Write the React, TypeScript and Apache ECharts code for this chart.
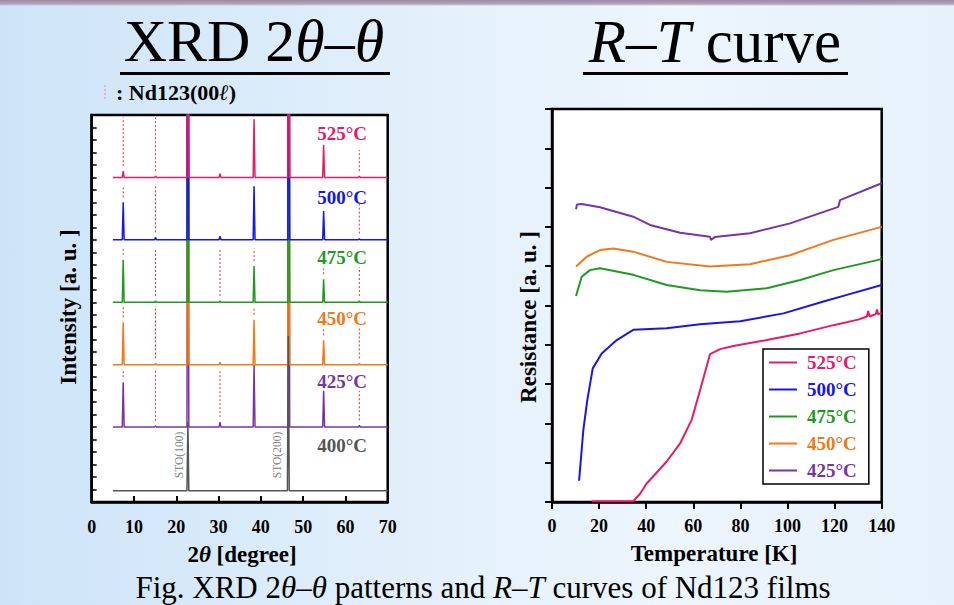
import React, { useEffect, useRef } from "react";
import * as echarts from "echarts";

const SERIF = "'Liberation Serif', 'Times New Roman', serif";

// ---------- XRD 2θ–θ data ----------
// Nd123 (00ℓ) reflection positions, 2θ in degrees
const ND123_PEAKS = [7.45, 15.1, 22.75, 30.35, 38.4, 46.6, 54.85, 63.3];
const XRD_NAMES = ["525°C", "500°C", "475°C", "450°C", "425°C", "400°C"];
const XRD_COLORS = ["#e8196b", "#1717e6", "#1f9a1f", "#ef7a17", "#7a33a6", "#555555"];
// vertical offset of each pattern (stacked)
const XRD_BASELINES = [26, 21, 16, 11, 6, 0.9];
// peak heights above baseline, one per Nd123 position (STO-overlapping peaks run off scale)
const PEAKS_525 = [0.5, 0.1, 40, 0.3, 4.65, 40, 2.6, 0.1];
const PEAKS_500 = [3.0, 0.2, 40, 0.3, 4.3, 40, 2.3, 0.1];
const PEAKS_475 = [3.4, 0.1, 40, 0.1, 2.9, 40, 1.85, 0.1];
const PEAKS_450 = [3.4, 0.1, 40, 0.2, 3.6, 40, 1.95, 0.1];
const PEAKS_425 = [3.6, 0.1, 40, 0.4, 4.97, 40, 2.9, 0.15];
// 400°C film: substrate peaks only
const STO_PEAKS = [22.75, 46.5];
const PEAKS_400 = [5.5, 12.4];
// dotted Nd123 guide marks per pattern: [2θ, top above baseline]
const MARKS_525 = [[7.45, 4.8], [15.1, 4.8], [63.3, 2.2]];
const MARKS_500 = [[7.45, 4.3], [15.1, 4.3], [63.3, 3.0]];
const MARKS_475 = [[7.45, 4.3], [15.1, 4.3], [30.35, 4.3], [38.4, 4.3], [54.85, 2.7], [63.3, 2.8]];
const MARKS_450 = [[7.45, 4.7], [15.1, 4.7], [38.4, 4.6], [54.85, 3.0], [63.3, 3.0]];
const MARKS_425 = [[7.45, 4.6], [15.1, 4.6], [30.35, 4.5], [63.3, 2.9]];
const XRD_TICKS = [0, 10, 20, 30, 40, 50, 60, 70];

// ---------- R–T data: [T (K), R (a.u.)] ----------
const RT_525 = [
  [16.8, 0.02], [34.5, 0.02], [37.4, 0.21], [40.2, 0.47], [44, 0.72], [48.7, 1.03], [54.4, 1.49],
  [59.3, 2.09], [62.9, 2.85], [67.1, 3.76], [71.4, 3.89], [77, 3.97], [91.2, 4.12], [105.4, 4.29],
  [119.5, 4.5], [130, 4.64], [133.7, 4.72], [134.3, 4.86], [134.8, 4.72], [137.5, 4.78],
  [138, 4.9], [138.5, 4.78], [140, 4.8],
];
const RT_500 = [
  [11.5, 0.54], [13.3, 1.83], [15.0, 2.6], [17.3, 3.4], [21.1, 3.78], [27.5, 4.12], [34.5, 4.38],
  [48.7, 4.42], [62.9, 4.52], [79.9, 4.6], [98.3, 4.8], [115.3, 5.1], [125.2, 5.27], [140, 5.52],
];
const RT_475 = [
  [10.2, 5.24], [12.6, 5.73], [16.1, 5.9], [20.4, 5.95], [34.5, 5.78], [48.7, 5.52], [62.9, 5.39],
  [74.2, 5.35], [91.2, 5.44], [105.4, 5.65], [119.5, 5.9], [140, 6.18],
];
const RT_450 = [
  [10.2, 5.99], [14.7, 6.24], [20.4, 6.41], [26, 6.45], [34.5, 6.37], [48.7, 6.11], [67.1, 5.99],
  [84.1, 6.05], [101.1, 6.28], [119.5, 6.67], [140, 7.0],
];
const RT_425 = [
  [10.2, 7.45], [10.6, 7.57], [12.6, 7.58], [20.4, 7.5], [34.5, 7.26], [41.6, 7.05], [54.4, 6.85],
  [67.1, 6.75], [67.5, 6.67], [69.1, 6.74], [84.1, 6.84], [101.1, 7.09], [113.8, 7.35],
  [121.6, 7.51], [122.3, 7.68], [140, 8.11],
];
const RT_NAMES = ["525°C", "500°C", "475°C", "450°C", "425°C"];
const RT_COLORS = ["#e8196b", "#1717e6", "#1f9a1f", "#ef7a17", "#7a33a6"];
const RT_SETS = [RT_525, RT_500, RT_475, RT_450, RT_425];
const RT_TICKS = [0, 20, 40, 60, 80, 100, 120, 140];

function buildPattern(base: number, positions: number[], heights: number[]) {
  const pts: number[][] = [[5, base]];
  positions.forEach((p, i) => {
    pts.push([p - 0.22, base], [p, base + heights[i]], [p + 0.22, base]);
  });
  pts.push([70, base]);
  return pts;
}

// vertical guide segments, separated by empty points so each stands alone
function buildMarks(base: number, heights: number[], marks: number[][]) {
  const pts: any[] = [];
  marks.forEach(([p, top]) => {
    const i = ND123_PEAKS.indexOf(p);
    const h = i >= 0 ? heights[i] : 0;
    pts.push([p, base + Math.max(h + 0.4, 0.45)], [p, base + top], [p, "-"]);
  });
  return pts;
}

export default function App() {
  const ref = useRef<HTMLDivElement>(null);

  useEffect(() => {
    if (!ref.current) return;
    const chart = echarts.init(ref.current, undefined, { renderer: "svg" });

    const peakSets = [PEAKS_525, PEAKS_500, PEAKS_475, PEAKS_450, PEAKS_425];
    const markSets = [MARKS_525, MARKS_500, MARKS_475, MARKS_450, MARKS_425];

    const guideSeries = markSets.map((m, k) => ({
      name: "Nd123 " + XRD_NAMES[k],
      type: "line",
      xAxisIndex: 0,
      yAxisIndex: 0,
      data: buildMarks(XRD_BASELINES[k], peakSets[k], m),
      connectNulls: false,
      symbol: "none",
      lineStyle: { color: "#ea2f3b", width: 1, type: [2, 2] },
      itemStyle: { color: "#ea2f3b" },
      silent: true,
    }));

    // lower patterns first so each band shows its own colour on top
    const xrdSeries: any[] = [];
    for (let k = 4; k >= 0; k--) {
      xrdSeries.push({
        name: "XRD " + XRD_NAMES[k],
        type: "line",
        xAxisIndex: 0,
        yAxisIndex: 0,
        data: buildPattern(XRD_BASELINES[k], ND123_PEAKS, peakSets[k]),
        symbol: "none",
        lineStyle: { color: XRD_COLORS[k], width: 1.5 },
        itemStyle: { color: XRD_COLORS[k] },
        silent: true,
      });
    }
    xrdSeries.push({
      name: "XRD " + XRD_NAMES[5],
      type: "line",
      xAxisIndex: 0,
      yAxisIndex: 0,
      data: buildPattern(XRD_BASELINES[5], STO_PEAKS, PEAKS_400),
      symbol: "none",
      lineStyle: { color: XRD_COLORS[5], width: 1.5 },
      itemStyle: { color: XRD_COLORS[5] },
      silent: true,
    });

    const rtSeries = RT_SETS.map((d, i) => ({
      name: RT_NAMES[i],
      type: "line",
      xAxisIndex: 1,
      yAxisIndex: 1,
      data: d,
      symbol: "none",
      showSymbol: false,
      lineStyle: { color: RT_COLORS[i], width: 2 },
      itemStyle: { color: RT_COLORS[i] },
      silent: true,
    }));

    const tempLabelY = [133, 197, 257, 318, 381, 445];
    const tempLabels = XRD_NAMES.map((n, i) => ({
      type: "text",
      z: 100,
      x: 367,
      y: tempLabelY[i],
      style: {
        text: n,
        fill: XRD_COLORS[i],
        font: `bold 19px ${SERIF}`,
        align: "right",
        verticalAlign: "middle",
      },
    }));

    const rich = (size: number, weight: string) => ({
      r: { fontFamily: SERIF, fontSize: size, fontWeight: weight, color: "#000" },
      i: { fontFamily: SERIF, fontSize: size, fontWeight: weight, fontStyle: "italic", color: "#000" },
    });

    const axisLabel = {
      fontFamily: SERIF,
      fontSize: 18,
      fontWeight: "bold",
      color: "#000",
    };

    chart.setOption({
      animation: false,
      grid: [
        {
          left: 91.7, top: 115, width: 296, height: 387,
          show: true, backgroundColor: "#fff", borderColor: "#000", borderWidth: 2.5,
        },
        {
          left: 552, top: 109, width: 329.7, height: 393,
          show: true, backgroundColor: "#fff", borderColor: "#000", borderWidth: 2.5,
        },
      ],
      xAxis: [
        {
          gridIndex: 0, type: "value", min: 0, max: 70, interval: 10,
          axisLine: { show: true, lineStyle: { color: "#000", width: 2.5 } },
          axisTick: { inside: true, length: 6, lineStyle: { color: "#000", width: 2 } },
          axisLabel: { ...axisLabel, margin: 16, formatter: (v: number) => (XRD_TICKS.includes(v) ? String(v) : "") },
          splitLine: { show: false },
        },
        {
          gridIndex: 1, type: "value", min: 0, max: 140, interval: 20,
          axisLine: { show: true, lineStyle: { color: "#000", width: 2.5 } },
          axisTick: { inside: false, length: 7, lineStyle: { color: "#000", width: 2 } },
          axisLabel: { ...axisLabel, margin: 15, formatter: (v: number) => (RT_TICKS.includes(v) ? String(v) : "") },
          splitLine: { show: false },
        },
      ],
      yAxis: [
        {
          gridIndex: 0, type: "value", min: 0, max: 31, interval: 1,
          axisLine: { show: true, lineStyle: { color: "#000", width: 2.5 } },
          axisTick: { inside: true, length: 5, lineStyle: { color: "#000", width: 1.5 } },
          axisLabel: { show: false },
          splitLine: { show: false },
        },
        {
          gridIndex: 1, type: "value", min: 0, max: 10, interval: 1,
          axisLine: { show: true, lineStyle: { color: "#000", width: 2.5 } },
          axisTick: { inside: false, length: 7, lineStyle: { color: "#000", width: 2 } },
          axisLabel: { show: false },
          splitLine: { show: false },
        },
      ],
      legend: {
        data: RT_NAMES.map((n, i) => ({ name: n, textStyle: { color: RT_COLORS[i] } })),
        orient: "vertical",
        left: 763,
        top: 349,
        selectedMode: false,
        icon: "path://M0,0H28V2H0Z",
        symbolKeepAspect: true,
        backgroundColor: "#fff",
        borderColor: "#000",
        borderWidth: 1.5,
        borderRadius: 0,
        padding: [4, 12, 4, 6],
        itemGap: 8,
        itemWidth: 28,
        itemHeight: 20,
        textStyle: { fontFamily: SERIF, fontSize: 19, fontWeight: "bold", padding: [0, 0, 0, 5] },
      },
      series: [...guideSeries, ...xrdSeries, ...rtSeries],
      graphic: [
        // panel titles
        {
          type: "text", z: 100, x: 254, y: 41,
          style: { text: "{r|XRD 2}{i|θ}{r|–}{i|θ}", rich: rich(60, "normal"), align: "center", verticalAlign: "middle" },
        },
        { type: "rect", z: 100, shape: { x: 120, y: 72, width: 270, height: 3 }, style: { fill: "#000" } },
        {
          type: "text", z: 100, x: 715, y: 41,
          style: { text: "{i|R}{r|–}{i|T}{r| curve}", rich: rich(61, "normal"), align: "center", verticalAlign: "middle" },
        },
        { type: "rect", z: 100, shape: { x: 583, y: 72, width: 265, height: 3 }, style: { fill: "#000" } },
        // Nd123 guide key
        {
          type: "line", z: 100, shape: { x1: 105, y1: 85, x2: 105, y2: 101 },
          style: { stroke: "#e88a9a", lineWidth: 1, lineDash: [2, 2] },
        },
        {
          type: "text", z: 100, x: 116, y: 92.5,
          style: { text: "{r|: Nd123(00}{i|ℓ}{r|)}", rich: rich(22, "bold"), align: "left", verticalAlign: "middle" },
        },
        ...tempLabels,
        // substrate peak labels
        {
          type: "text", z: 100, x: 179, y: 455, rotation: Math.PI / 2,
          style: { text: "STO(100)", fill: "#808080", font: `11.5px ${SERIF}`, align: "center", verticalAlign: "middle" },
        },
        {
          type: "text", z: 100, x: 277, y: 455, rotation: Math.PI / 2,
          style: { text: "STO(200)", fill: "#808080", font: `11.5px ${SERIF}`, align: "center", verticalAlign: "middle" },
        },
        // axis titles
        {
          type: "text", z: 100, x: 68, y: 307, rotation: Math.PI / 2,
          style: { text: "Intensity [a. u. ]", font: `bold 23px ${SERIF}`, fill: "#000", align: "center", verticalAlign: "middle" },
        },
        {
          type: "text", z: 100, x: 242, y: 554,
          style: { text: "{r|2}{i|θ}{r| [degree]}", rich: rich(23, "bold"), align: "center", verticalAlign: "middle" },
        },
        {
          type: "text", z: 100, x: 528, y: 317, rotation: Math.PI / 2,
          style: { text: "Resistance [a. u. ]", font: `bold 23px ${SERIF}`, fill: "#000", align: "center", verticalAlign: "middle" },
        },
        {
          type: "text", z: 100, x: 714, y: 553,
          style: { text: "Temperature [K]", font: `bold 23px ${SERIF}`, fill: "#000", align: "center", verticalAlign: "middle" },
        },
        // caption
        {
          type: "text", z: 100, x: 483, y: 587,
          style: {
            text: "{r|Fig. XRD 2}{i|θ}{r|–}{i|θ}{r| patterns and }{i|R}{r|–}{i|T}{r| curves of Nd123 films}",
            rich: rich(31, "normal"),
            align: "center",
            verticalAlign: "middle",
          },
        },
      ],
    });

    return () => chart.dispose();
  }, []);

  return (
    <div
      ref={ref}
      style={{
        position: "absolute",
        left: 0,
        top: 0,
        width: 954,
        height: 605,
        background:
          "linear-gradient(to bottom, #9b8aa4 0px, #b3a5b9 4px, rgba(255,255,255,0) 6px), linear-gradient(to right, #cde4f8 0%, #e3f0fb 45%, #edf5fd 70%, #e6f1fb 100%)",
      }}
    />
  );
}
